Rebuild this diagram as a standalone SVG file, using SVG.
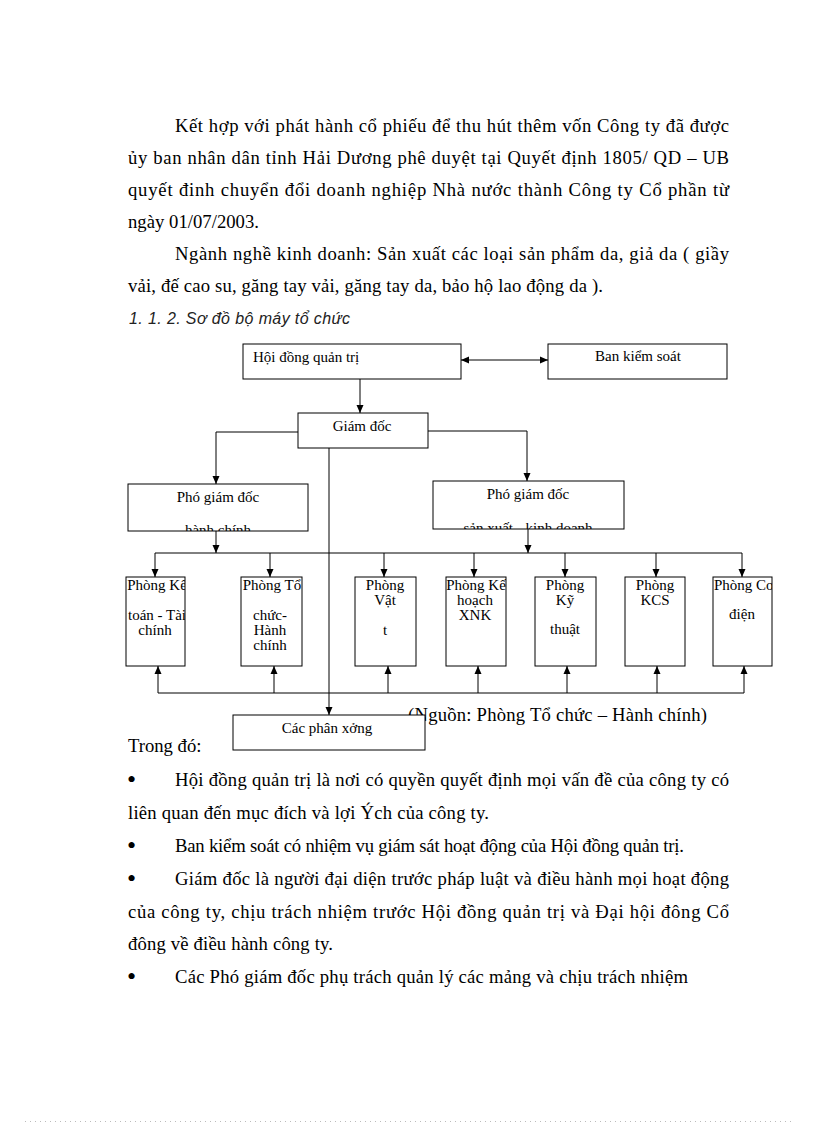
<svg xmlns="http://www.w3.org/2000/svg" width="816" height="1123" viewBox="0 0 816 1123">
<style>
.body{font-family:"Liberation Serif","Times New Roman",serif;font-size:18.67px;fill:#000}
.lbl{font-family:"Liberation Serif","Times New Roman",serif;font-size:15px;fill:#000}
.box{fill:#fff;stroke:#000;stroke-width:1}
.ln{fill:none;stroke:#000;stroke-width:1}
.head{font-family:"Liberation Sans",Arial,sans-serif;font-style:italic;font-size:16px;fill:#222}
.bul{font-family:"Liberation Serif","Times New Roman",serif;font-size:26px;fill:#000}
</style>
<defs>
<marker id="ah" viewBox="0 0 8 8" refX="8" refY="4" markerWidth="8" markerHeight="8" markerUnits="userSpaceOnUse" orient="auto-start-reverse">
<path d="M0,0.5 L8,4 L0,7.5 Z" fill="#000"/>
</marker>
<clipPath id="c-pgdhc"><rect x="128" y="484" width="180" height="47"/></clipPath>
<clipPath id="c-pgdsx"><rect x="433" y="481" width="191" height="48"/></clipPath>
<clipPath id="c-kt"><rect x="126" y="577" width="59" height="89"/></clipPath>
<clipPath id="c-tc"><rect x="241" y="577" width="61" height="89"/></clipPath>
<clipPath id="c-vt"><rect x="355" y="577" width="61" height="89"/></clipPath>
<clipPath id="c-kh"><rect x="446" y="577" width="60" height="89"/></clipPath>
<clipPath id="c-kyt"><rect x="535" y="577" width="61" height="89"/></clipPath>
<clipPath id="c-kcs"><rect x="625" y="577" width="60" height="89"/></clipPath>
<clipPath id="c-cd"><rect x="713" y="577" width="59" height="89"/></clipPath>
</defs>

<g id="text-top" class="body">
<text x="175" y="132" textLength="554" lengthAdjust="spacing">Kết hợp với phát hành cổ phiếu để thu hút thêm vốn Công ty đã được</text>
<text x="128" y="164" textLength="601" lengthAdjust="spacing">ủy ban nhân dân tỉnh Hải Dương phê duyệt tại Quyết định 1805/ QD – UB</text>
<text x="128" y="196" textLength="601" lengthAdjust="spacing">quyết đinh chuyển đổi doanh nghiệp Nhà nước thành Công ty Cổ phần từ</text>
<text x="128" y="228" textLength="131" lengthAdjust="spacing">ngày 01/07/2003.</text>
<text x="175" y="260" textLength="554" lengthAdjust="spacing">Ngành nghề kinh doanh: Sản xuất các loại sản phẩm da, giả da ( giầy</text>
<text x="128" y="292" textLength="475" lengthAdjust="spacing">vải, đế cao su, găng tay vải, găng tay da, bảo hộ lao động da ).</text>
</g>
<text id="heading" class="head" x="129" y="324" textLength="221" lengthAdjust="spacing">1. 1. 2. Sơ đồ bộ máy tổ chức</text>

<g id="caption">
<text class="body" x="408" y="721" textLength="299" lengthAdjust="spacing">(Nguồn: Phòng Tổ chức – Hành chính)</text>
</g>

<g id="connectors">
<line class="ln" x1="461" y1="360" x2="548" y2="360" marker-start="url(#ah)" marker-end="url(#ah)"/>
<line class="ln" x1="360" y1="379" x2="360" y2="413" marker-end="url(#ah)"/>
<polyline class="ln" points="298,432 216,432 216,484" marker-end="url(#ah)"/>
<polyline class="ln" points="428,431 527,431 527,481" marker-end="url(#ah)"/>
<line class="ln" x1="329" y1="448" x2="329" y2="715" marker-end="url(#ah)"/>
<line class="ln" x1="216" y1="531" x2="216" y2="553" marker-end="url(#ah)"/>
<line class="ln" x1="528" y1="529" x2="528" y2="553" marker-end="url(#ah)"/>
<line class="ln" x1="155" y1="553" x2="742" y2="553"/>
<line class="ln" x1="155" y1="553" x2="155" y2="577" marker-end="url(#ah)"/>
<line class="ln" x1="270" y1="553" x2="270" y2="577" marker-end="url(#ah)"/>
<line class="ln" x1="384" y1="553" x2="384" y2="577" marker-end="url(#ah)"/>
<line class="ln" x1="474" y1="553" x2="474" y2="577" marker-end="url(#ah)"/>
<line class="ln" x1="565" y1="553" x2="565" y2="577" marker-end="url(#ah)"/>
<line class="ln" x1="656" y1="553" x2="656" y2="577" marker-end="url(#ah)"/>
<line class="ln" x1="742" y1="553" x2="742" y2="577" marker-end="url(#ah)"/>
<line class="ln" x1="158" y1="693" x2="744" y2="693"/>
<line class="ln" x1="158" y1="693" x2="158" y2="666" marker-end="url(#ah)"/>
<line class="ln" x1="274" y1="693" x2="274" y2="666" marker-end="url(#ah)"/>
<line class="ln" x1="388" y1="693" x2="388" y2="666" marker-end="url(#ah)"/>
<line class="ln" x1="478" y1="693" x2="478" y2="666" marker-end="url(#ah)"/>
<line class="ln" x1="567" y1="693" x2="567" y2="666" marker-end="url(#ah)"/>
<line class="ln" x1="657" y1="693" x2="657" y2="666" marker-end="url(#ah)"/>
<line class="ln" x1="744" y1="693" x2="744" y2="666" marker-end="url(#ah)"/>
</g>

<g id="hdqt">
<rect class="box" x="243" y="344" width="218" height="35"/>
<text class="lbl" x="253" y="362">Hội đồng quản trị</text>
</g>
<g id="bks">
<rect class="box" x="548" y="344" width="179" height="35"/>
<text class="lbl" x="638" y="361" text-anchor="middle">Ban kiểm soát</text>
</g>
<g id="giamdoc">
<rect class="box" x="298" y="413" width="130" height="35"/>
<text class="lbl" x="362" y="431" text-anchor="middle">Giám đốc</text>
</g>
<g id="pgd-hc">
<rect class="box" x="128" y="484" width="180" height="47"/>
<g clip-path="url(#c-pgdhc)">
<text class="lbl" x="218" y="502" text-anchor="middle">Phó giám đốc</text>
<text class="lbl" x="218" y="535" text-anchor="middle">hành chính</text>
</g>
</g>
<g id="pgd-sx">
<rect class="box" x="433" y="481" width="191" height="48"/>
<g clip-path="url(#c-pgdsx)">
<text class="lbl" x="528" y="499" text-anchor="middle">Phó giám đốc</text>
<text class="lbl" x="528" y="533" text-anchor="middle">sản xuất - kinh doanh</text>
</g>
</g>

<g id="p-ketoan">
<rect class="box" x="126" y="577" width="59" height="89"/>
<g clip-path="url(#c-kt)" class="lbl" text-anchor="middle">
<text x="157" y="590">Phòng Kế</text>
<text x="157" y="620">toán - Tài</text>
<text x="155" y="635">chính</text>
</g>
</g>
<g id="p-tochuc">
<rect class="box" x="241" y="577" width="61" height="89"/>
<g clip-path="url(#c-tc)" class="lbl" text-anchor="middle">
<text x="272" y="590">Phòng Tổ</text>
<text x="270" y="620">chức-</text>
<text x="270" y="635">Hành</text>
<text x="270" y="650">chính</text>
</g>
</g>
<g id="p-vattu">
<rect class="box" x="355" y="577" width="61" height="89"/>
<g clip-path="url(#c-vt)" class="lbl" text-anchor="middle">
<text x="385" y="590">Phòng</text>
<text x="385" y="605">Vật</text>
<text x="385" y="635">t</text>
</g>
</g>
<g id="p-kehoach">
<rect class="box" x="446" y="577" width="60" height="89"/>
<g clip-path="url(#c-kh)" class="lbl" text-anchor="middle">
<text x="476" y="590">Phòng Kế</text>
<text x="475" y="605">hoạch</text>
<text x="475" y="620">XNK</text>
</g>
</g>
<g id="p-kythuat">
<rect class="box" x="535" y="577" width="61" height="89"/>
<g clip-path="url(#c-kyt)" class="lbl" text-anchor="middle">
<text x="565" y="590">Phòng</text>
<text x="565" y="605">Kỹ</text>
<text x="565" y="634">thuật</text>
</g>
</g>
<g id="p-kcs">
<rect class="box" x="625" y="577" width="60" height="89"/>
<g clip-path="url(#c-kcs)" class="lbl" text-anchor="middle">
<text x="655" y="590">Phòng</text>
<text x="655" y="605">KCS</text>
</g>
</g>
<g id="p-codien">
<rect class="box" x="713" y="577" width="59" height="89"/>
<g clip-path="url(#c-cd)" class="lbl" text-anchor="middle">
<text x="744" y="590">Phòng Cơ</text>
<text x="742" y="619">điện</text>
</g>
</g>

<g id="phanxuong">
<rect class="box" x="233" y="715" width="192" height="35"/>
<text class="lbl" x="327" y="733" text-anchor="middle">Các phân xởng</text>
</g>

<g id="text-bottom" class="body">
<text x="128" y="752">Trong đó:</text>
<text class="bul" x="127" y="788">•</text>
<text x="175" y="786" textLength="554" lengthAdjust="spacing">Hội đồng quản trị là nơi có quyền quyết định mọi vấn đề của công ty có</text>
<text x="128" y="819" textLength="361" lengthAdjust="spacing">liên quan đến mục đích và lợi Ých của công ty.</text>
<text class="bul" x="127" y="854">•</text>
<text x="175" y="852" textLength="509" lengthAdjust="spacing">Ban kiểm soát có nhiệm vụ giám sát hoạt động của Hội đồng quản trị.</text>
<text class="bul" x="127" y="887">•</text>
<text x="175" y="885" textLength="554" lengthAdjust="spacing">Giám đốc là người đại diện trước pháp luật và điều hành mọi hoạt động</text>
<text x="128" y="918" textLength="601" lengthAdjust="spacing">của công ty, chịu trách nhiệm trước Hội đồng quản trị và Đại hội đông Cổ</text>
<text x="128" y="950" textLength="205" lengthAdjust="spacing">đông về điều hành công ty.</text>
<text class="bul" x="127" y="985">•</text>
<text x="175" y="983" textLength="513" lengthAdjust="spacing">Các Phó giám đốc phụ trách quản lý các mảng và chịu trách nhiệm</text>
</g>

<line id="page-edge" x1="25" y1="1121.5" x2="793" y2="1121.5" stroke="#bbb" stroke-width="1" stroke-dasharray="1 4"/>
</svg>
